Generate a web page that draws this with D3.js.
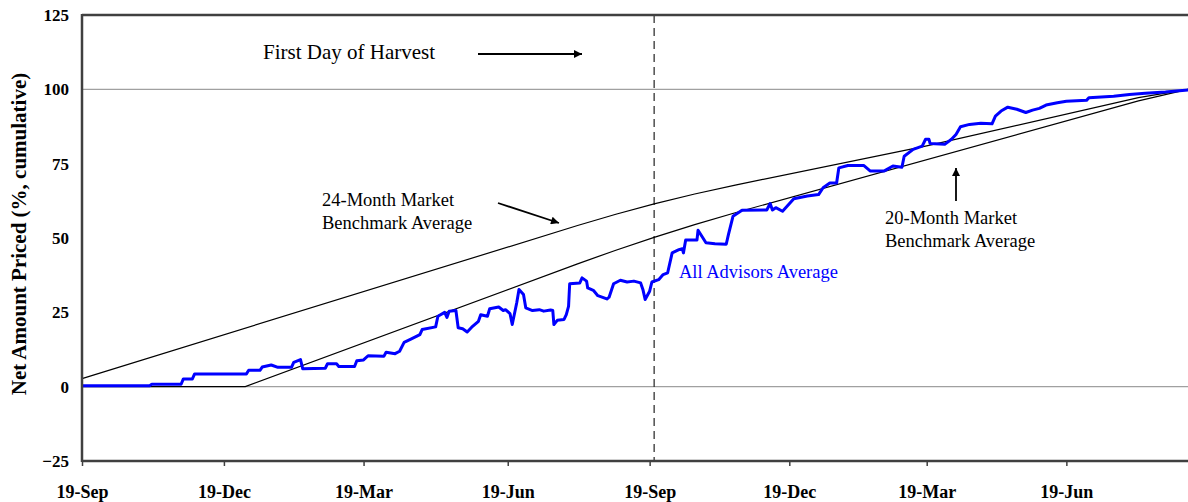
<!DOCTYPE html>
<html><head><meta charset="utf-8">
<script src="https://cdn.jsdelivr.net/npm/d3@7"></script>
<style>
html,body{margin:0;padding:0;background:#fff;}
svg{display:block;}
</style></head>
<body>
<svg id="chart" width="1188" height="502"></svg>
<script>
// x unit: trading days since the first 19-Sep
const tickDays = [0, 63, 125, 189, 252, 314, 375, 437];
const tickLabels = ["19-Sep", "19-Dec", "19-Mar", "19-Jun", "19-Sep", "19-Dec", "19-Mar", "19-Jun"];
const yTicks = [-25, 0, 25, 50, 75, 100, 125];
const gridValues = [0, 100];
const harvestDay = 254;
const lastDay = 491;

const bench24 = [[0,2.7],[220,54.2],[237,58.0],[254,61.5],[272,64.8],[290,67.8],[375,81.0],[469,97.2],[491,100]];
const bench20 = [[0,0],[72.5,0],[220,41.3],[237,45.9],[254,50.2],[272,54.5],[290,58.5],[469,96.1],[491,100]];
const advisors = [
[0,0.3],[30,0.3],[31,0.8],[44,0.8],[45,2.6],[49,2.6],[50,4.3],[73,4.3],[74,5.5],[79,5.5],[80,6.6],[84,7.3],[87,6.5],[93,6.5],[94,8.2],[97,9.1],[98,6.0],[108,6.2],[109,7.7],[113,7.7],[114,6.8],[121,6.8],[122,8.7],[125,9.0],[127,10.4],[134,10.2],[135,11.6],[139,11.1],[141,11.9],[143,14.9],[146,16.0],[150,17.5],[151,19.2],[157,20.1],[158,23.7],[161,25.0],[162,23.3],[163,25.4],[166,25.6],[167,19.8],[169,19.5],[171,18.4],[173,20.0],[176,22.0],[177,24.2],[180,23.7],[181,26.2],[185,26.8],[187,25.6],[188,25.9],[190,24.6],[191,20.9],[193,28.2],[194,32.7],[196,31.0],[197,26.5],[200,25.6],[203,25.9],[205,25.4],[208,25.8],[209,25.6],[209.5,20.9],[211,22.3],[214,22.6],[215,24.2],[216,27.0],[216.5,34.6],[221,34.9],[222,36.6],[224,35.5],[224.5,33.2],[227,32.4],[229,30.6],[233,29.5],[234,30.1],[236,34.6],[239,35.8],[242,35.2],[245,35.5],[248,34.9],[249,32.7],[250,29.3],[252,32.1],[253,35.2],[256,36.0],[258,37.7],[260,38.3],[262,45.0],[265,46.1],[266.5,46.4],[267,45.0],[268,49.3],[273,49.3],[273.5,52.6],[277,48.4],[281,48.1],[286,47.9],[287,51.2],[289,57.3],[293,59.3],[304,59.4],[305.5,61.6],[306.5,59.4],[308,60.2],[311,59.0],[316,63.2],[322,64.1],[327,64.6],[329,66.9],[332,68.5],[335,68.5],[336,73.6],[340,74.4],[347,74.4],[350,72.5],[356,72.5],[360,74.2],[364,73.8],[365,77.5],[369,79.8],[373,80.9],[374.5,83.2],[376,83.2],[376.5,81.8],[383,81.5],[386,83.2],[388,84.8],[390,87.4],[394,88.2],[399,88.6],[404,88.4],[405.5,91.0],[408,92.7],[411,94.0],[415,93.3],[419,92.2],[422,93.0],[425,93.6],[428,94.7],[433,95.5],[437,96.0],[446,96.3],[447,97.2],[458,97.7],[465,98.3],[472,98.7],[481,99.1],[491,99.8]
];

const serif = "'Liberation Serif','Times New Roman',Times,serif";
const svg = d3.select("#chart");
const L = 82, R = 1188, T = 15, B = 461;
const x = d3.scaleLinear().domain([0, lastDay]).range([L, R]);
const y = d3.scaleLinear().domain([-25, 125]).range([B, T]);

const defs = svg.append("defs");
defs.append("marker").attr("id","ah").attr("viewBox","0 0 10 10").attr("refX",10).attr("refY",5)
  .attr("markerWidth",10).attr("markerHeight",8).attr("markerUnits","userSpaceOnUse").attr("orient","auto")
  .append("path").attr("d","M0,0L10,5L0,10Z").attr("fill","#000");

svg.append("g").selectAll("line").data(gridValues).join("line")
  .attr("x1", L).attr("x2", R).attr("y1", d => y(d)).attr("y2", d => y(d))
  .attr("stroke", "#a0a0a0").attr("stroke-width", 1.2);

svg.append("line").attr("x1", x(harvestDay)).attr("x2", x(harvestDay)).attr("y1", T).attr("y2", B)
  .attr("stroke", "#333").attr("stroke-width", 1.3).attr("stroke-dasharray", "8,5");

const line = d3.line().x(d => x(d[0])).y(d => y(d[1]));
svg.append("path").datum(bench24).attr("d", line).attr("fill","none").attr("stroke","#000").attr("stroke-width",1.2);
svg.append("path").datum(bench20).attr("d", line).attr("fill","none").attr("stroke","#000").attr("stroke-width",1.2);
svg.append("path").datum(advisors).attr("d", line).attr("fill","none").attr("stroke","#0000ff")
  .attr("stroke-width",3).attr("stroke-linejoin","round");

const xAxis = d3.axisBottom(x).tickValues(tickDays).tickFormat((d,i) => tickLabels[i]).tickSize(5).tickPadding(19);
const gx = svg.append("g").attr("transform", `translate(0,${B})`).call(xAxis);
gx.select(".domain").remove();
gx.selectAll(".tick line").attr("stroke","#404040").attr("stroke-width",1.5);
gx.selectAll("text").attr("font-family", serif).attr("font-weight","bold").attr("font-size","18px").attr("fill","#000");

const yAxis = d3.axisLeft(y).tickValues(yTicks).tickSize(0).tickPadding(13);
const gy = svg.append("g").attr("transform", `translate(${L},0)`).call(yAxis);
gy.select(".domain").remove();
gy.selectAll("text").attr("font-family", serif).attr("font-weight","bold").attr("font-size","17px").attr("fill","#000");

svg.append("line").attr("x1",L).attr("x2",R).attr("y1",T).attr("y2",T).attr("stroke","#404040").attr("stroke-width",2.5);
svg.append("line").attr("x1",L).attr("x2",R).attr("y1",B).attr("y2",B).attr("stroke","#404040").attr("stroke-width",2.5);
svg.append("line").attr("x1",L).attr("x2",L).attr("y1",T-1).attr("y2",B+1).attr("stroke","#404040").attr("stroke-width",2.5);

svg.append("text").attr("transform","translate(26,234) rotate(-90)").attr("text-anchor","middle")
  .attr("font-family", serif).attr("font-weight","bold").attr("font-size","21px").text("Net Amount Priced (%, cumulative)");

const ann = svg.append("g").attr("font-family", serif).attr("fill","#000");
ann.append("text").attr("x",263).attr("y",59).attr("font-size","21px").text("First Day of Harvest");
ann.append("line").attr("x1",478).attr("y1",54).attr("x2",582).attr("y2",54).attr("stroke","#000").attr("stroke-width",1.8).attr("marker-end","url(#ah)");

ann.append("text").attr("x",322).attr("y",206).attr("font-size","18.5px").text("24-Month Market");
ann.append("text").attr("x",322).attr("y",229).attr("font-size","18.5px").text("Benchmark Average");
ann.append("line").attr("x1",498).attr("y1",203).attr("x2",559).attr("y2",223).attr("stroke","#000").attr("stroke-width",1.8).attr("marker-end","url(#ah)");

ann.append("text").attr("x",885).attr("y",224).attr("font-size","18.5px").text("20-Month Market");
ann.append("text").attr("x",885).attr("y",247).attr("font-size","18.5px").text("Benchmark Average");
ann.append("line").attr("x1",956).attr("y1",201).attr("x2",956).attr("y2",168).attr("stroke","#000").attr("stroke-width",1.8).attr("marker-end","url(#ah)");

ann.append("text").attr("x",679).attr("y",278).attr("font-size","18.5px").attr("fill","#0000ff").text("All Advisors Average");
</script>
</body></html>
